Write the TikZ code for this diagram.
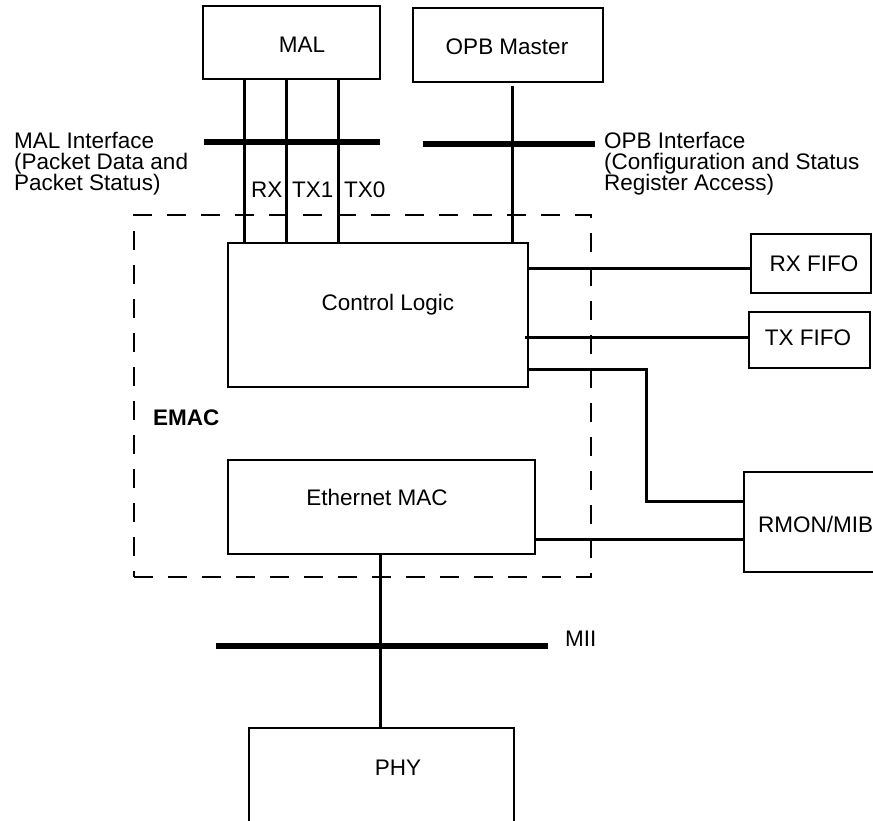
\documentclass[tikz,border=0pt]{standalone}
\usepackage{fontspec}
\setmainfont{Liberation Sans}
\begin{document}
\begin{tikzpicture}[x=1pt,y=-1pt,
  font=\fontsize{22.5}{21}\selectfont,
  box/.style={draw, line width=2pt, rectangle, inner sep=0pt, outer sep=0pt},
  openbox/.style={rectangle, inner sep=0pt, outer sep=0pt},
  emacbox/.style={draw, line width=2pt, dash pattern=on 19pt off 15pt, rectangle, inner sep=0pt, outer sep=0pt},
  txt/.style={inner sep=0pt, anchor=base},
  txtw/.style={inner sep=0pt, anchor=base west},
  wire/.style={line width=3pt},
  bus/.style={line width=6pt}
]
\useasboundingbox (0,0) rectangle (873,821);

% boxes
\node[box, minimum width=177pt, minimum height=73pt] (mal) at (291.5,42.5) {};
\node[box, minimum width=190pt, minimum height=74pt] (opb) at (508,45) {};
\node[emacbox, minimum width=457pt, minimum height=362pt] (emac) at (362.5,396) {};
\node[box, minimum width=300pt, minimum height=144pt] (cl) at (378,315) {};
\node[box, minimum width=307pt, minimum height=94pt] (eth) at (381.5,507) {};
\node[box, minimum width=120pt, minimum height=59pt] (rxf) at (811,263.5) {};
\node[box, minimum width=121pt, minimum height=56pt] (txf) at (809.5,340) {};
\node[openbox, minimum width=134pt, minimum height=100pt] (rmon) at (811,522) {};
\node[openbox, minimum width=265pt, minimum height=104pt] (phy) at (381.5,780) {};
\draw[line width=2pt] (rmon.north east) -- (rmon.north west) -- (rmon.south west) -- (rmon.south east);
\draw[line width=2pt] (phy.south west) -- (phy.north west) -- (phy.north east) -- (phy.south east);

% texts
\node[txt] (tmal) at (302,53) {MAL};
\node[txt] (topb) at (507,55) {OPB Master};
\node[txt] (tcl) at (388,310) {Control Logic};
\node[txt] (teth) at (377,505) {Ethernet MAC};
\node[txt] (trxf) at (814,272) {RX FIFO};
\node[txt] (ttxf) at (808,345) {TX FIFO};
\node[txtw] (trmon) at (758,532) {RMON/MIB};
\node[txt] (tphy) at (398,775) {PHY};
\node[txtw] (temac) at (153,425) {\bfseries EMAC};
\node[txtw] (tmii) at (565,646) {MII};
\node[txtw] (trx) at (251,198) {RX};
\node[txtw] (ttx1) at (292,198) {TX1};
\node[txtw] (ttx0) at (344,198) {TX0};
\node[inner sep=0pt, anchor=north west, align=left] (tmali) at (14,132)
  {MAL Interface\\(Packet Data and\\Packet Status)};
\node[inner sep=0pt, anchor=north west, align=left] (topbi) at (604,132)
  {OPB Interface\\(Configuration and Status\\Register Access)};

% bus coordinates
\coordinate (malbusL) at (204,142);
\coordinate (malbusR) at (380,142);
\coordinate (opbbusL) at (423,144);
\coordinate (opbbusR) at (595,144);
\coordinate (miibusL) at (216,646);
\coordinate (miibusR) at (548,646);
\draw[bus] (malbusL) -- (malbusR);
\draw[bus] (opbbusL) -- (opbbusR);
\draw[bus] (miibusL) -- (miibusR);

% wire coordinates
\coordinate (xrx) at (244,0);
\coordinate (xtx1) at (286,0);
\coordinate (xtx0) at (338,0);
\coordinate (xopb) at (512,0);
\coordinate (yrx) at (0,269);
\coordinate (ytx) at (0,337);
\coordinate (ymib1) at (0,369);
\coordinate (ymib2) at (0,501);
\coordinate (ymib3) at (0,539);
\coordinate (xturn) at (646,0);
\coordinate (xphy) at (380,0);

\draw[wire] (mal.south -| xrx) -- (cl.north -| xrx);
\draw[wire] (mal.south -| xtx1) -- (cl.north -| xtx1);
\draw[wire] (mal.south -| xtx0) -- (cl.north -| xtx0);
\draw[wire, shorten <=4pt] (opb.south -| xopb) -- (cl.north -| xopb);
\draw[wire] (cl.east |- yrx) -- (rxf.west |- yrx);
\draw[wire, shorten <=-3pt] (cl.east |- ytx) -- (txf.west |- ytx);
\draw[wire] (cl.east |- ymib1) -| (xturn |- ymib2) -- (rmon.west |- ymib2);
\draw[wire] (eth.east |- ymib3) -- (rmon.west |- ymib3);
\draw[wire] (eth.south -| xphy) -- (phy.north -| xphy);
\end{tikzpicture}
\end{document}
